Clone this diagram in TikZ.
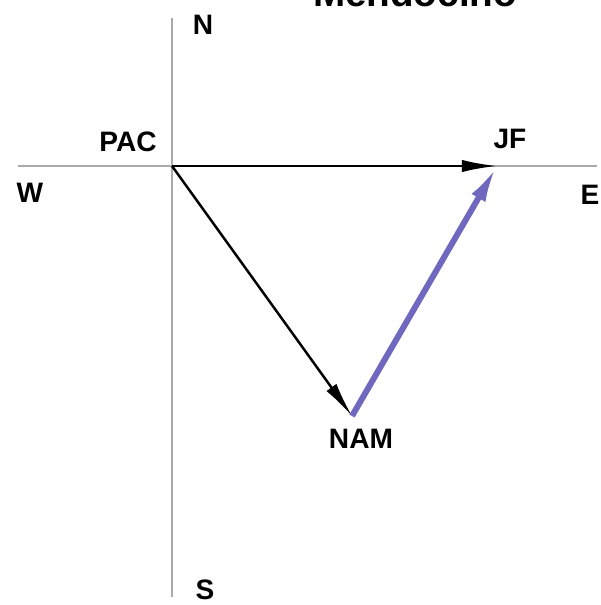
\documentclass[tikz,border=0pt]{standalone}
\usepackage{fontspec}
\setmainfont{Liberation Sans}
\usetikzlibrary{arrows.meta}
\definecolor{platecol}{RGB}{112,104,190}
\definecolor{axiscol}{RGB}{170,170,170}
\tikzset{
  axisline/.style={draw=axiscol, line width=1.4pt},
  compass/.style={font=\fontsize{16}{19}\selectfont\bfseries},
  platelabel/.style={font=\fontsize{16}{19}\selectfont\bfseries},
  vec/.style={draw=black, line width=1.4pt, -{Latex[length=20pt,width=7pt]}},
  platevec/.style={draw=platecol, line width=3.4pt, -{Latex[length=21pt,width=9pt]}}
}
\begin{document}
\begin{tikzpicture}[x=0.02cm, y=-0.02cm]
    \useasboundingbox (0,0) rectangle (601,605);

    % Title (cut off at the top)
    \node[anchor=base, font=\fontsize{22}{26}\selectfont\bfseries] (title) at (415,7) {Mendocino};

    % Axes
    \coordinate (north) at (172,18);
    \coordinate (south) at (172,597);
    \coordinate (west) at (18,166);
    \coordinate (east) at (597,166);
    \draw[axisline] (north) -- (south);
    \draw[axisline] (west) -- (east);

    % Compass labels
    \node[compass] (nlab) at (203,25) {N};
    \node[compass] (slab) at (205,590) {S};
    \node[compass] (wlab) at (30,193) {W};
    \node[compass] (elab) at (590,195) {E};

    % Plates
    \coordinate (pac) at (172,166);
    \coordinate (jf) at (497,166);
    \coordinate (nam) at (352,416);
    \node[platelabel] (paclab) at (128,142) {PAC};
    \node[platelabel] (jflab) at (510,139) {JF};
    \node[platelabel] (namlab) at (361,439) {NAM};

    % Velocity vectors
    \draw[vec] (pac) -- (jf);
    \draw[vec] (pac) -- (nam);
    \draw[platevec] (nam) -- (jf);
\end{tikzpicture}
\end{document}
